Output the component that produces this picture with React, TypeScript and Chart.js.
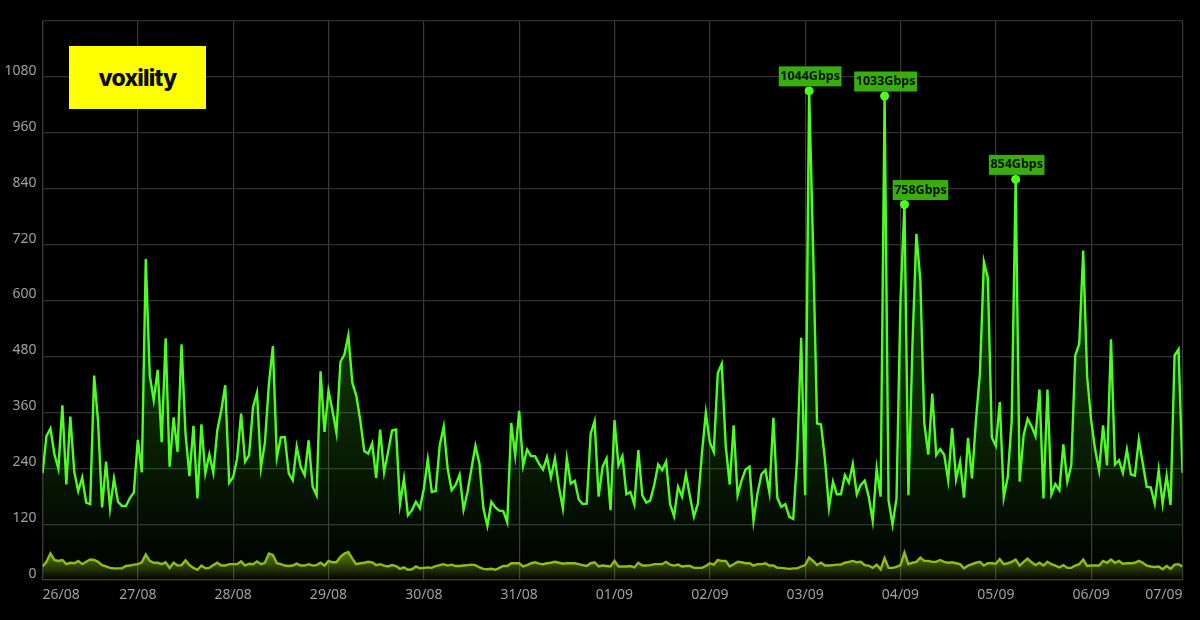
import React, { useEffect, useRef } from 'react';
import Chart from 'chart.js/auto';

const dayLabels = ['26/08', '27/08', '28/08', '29/08', '30/08', '31/08', '01/09', '02/09', '03/09', '04/09', '05/09', '06/09', '07/09'];
const dayTicks = [0, 24, 48, 72, 96, 120, 144, 168, 192, 216, 240, 264, 287];

// hourly traffic, Gbps
const inbound = [
  229, 309, 325, 270, 239, 375, 205, 351, 232, 191, 220, 166, 163, 439, 339, 156, 254, 154, 218, 168, 159, 159, 176, 188,
  301, 231, 689, 439, 386, 451, 296, 519, 243, 349, 275, 506, 314, 223, 331, 175, 334, 229, 270, 230, 321, 364, 418, 209,
  221, 261, 357, 254, 268, 371, 402, 241, 296, 421, 502, 263, 306, 307, 229, 214, 286, 243, 225, 300, 201, 182, 448, 318,
  406, 364, 316, 468, 484, 525, 423, 396, 343, 277, 271, 293, 219, 323, 231, 275, 321, 323, 163, 218, 139, 150, 168, 154,
  196, 259, 189, 191, 289, 329, 239, 193, 204, 226, 151, 189, 240, 288, 250, 154, 116, 168, 156, 149, 148, 124, 337, 268,
  363, 245, 280, 266, 266, 250, 237, 264, 220, 261, 200, 154, 261, 207, 213, 173, 163, 164, 314, 341, 179, 243, 261, 150,
  343, 246, 266, 184, 189, 162, 279, 182, 166, 171, 204, 248, 236, 254, 163, 137, 200, 179, 227, 179, 136, 164, 271, 359,
  296, 275, 444, 464, 289, 205, 332, 182, 214, 237, 243, 127, 186, 227, 236, 188, 348, 176, 157, 163, 136, 131, 264, 520,
  182, 1050, 715, 336, 334, 257, 155, 211, 184, 184, 225, 209, 249, 184, 204, 213, 179, 127, 239, 179, 1039, 171, 119, 175,
  600, 806, 182, 500, 743, 644, 336, 269, 400, 268, 281, 269, 214, 326, 216, 254, 177, 305, 218, 343, 443, 683, 648, 306,
  288, 382, 177, 221, 343, 860, 211, 311, 346, 330, 309, 409, 175, 409, 184, 206, 193, 291, 211, 246, 482, 507, 707, 436,
  343, 280, 235, 332, 246, 517, 248, 257, 230, 280, 227, 224, 301, 250, 200, 199, 164, 236, 164, 224, 161, 482, 495, 230,
];

const outbound = [
  29, 39, 57, 43, 41, 43, 34, 37, 36, 41, 34, 39, 44, 43, 39, 32, 29, 26, 25, 25, 25, 30, 31, 33,
  34, 38, 55, 41, 37, 37, 34, 38, 26, 37, 31, 32, 42, 32, 26, 22, 31, 25, 26, 32, 37, 31, 31, 34,
  34, 34, 40, 31, 35, 34, 40, 34, 37, 57, 54, 36, 34, 31, 30, 31, 35, 31, 31, 34, 31, 32, 37, 31,
  41, 38, 38, 50, 57, 60, 46, 34, 36, 37, 39, 38, 32, 34, 31, 29, 32, 30, 24, 27, 22, 23, 29, 25,
  26, 27, 26, 30, 32, 34, 31, 33, 30, 30, 31, 32, 33, 32, 27, 24, 23, 24, 22, 26, 30, 30, 36, 36,
  36, 29, 32, 36, 38, 35, 34, 36, 37, 39, 37, 35, 36, 36, 36, 34, 32, 30, 36, 38, 29, 31, 30, 29,
  41, 29, 29, 29, 30, 27, 37, 31, 31, 32, 34, 34, 34, 39, 33, 31, 33, 29, 30, 30, 26, 26, 26, 30,
  36, 33, 43, 41, 41, 29, 34, 39, 38, 36, 36, 31, 34, 34, 36, 31, 31, 26, 26, 25, 24, 25, 25, 29,
  32, 48, 41, 32, 37, 31, 31, 32, 33, 33, 37, 39, 41, 38, 39, 32, 31, 26, 33, 23, 47, 26, 26, 28,
  32, 59, 34, 37, 39, 48, 41, 41, 39, 39, 43, 39, 37, 38, 36, 34, 25, 31, 34, 37, 39, 31, 36, 36,
  35, 45, 34, 36, 39, 44, 31, 39, 46, 38, 32, 37, 31, 39, 34, 31, 27, 32, 26, 26, 31, 34, 44, 30,
  31, 31, 31, 41, 37, 44, 37, 41, 35, 36, 36, 37, 41, 37, 31, 29, 28, 29, 23, 30, 24, 33, 34, 29,
];

const peakIndexes = [193, 212, 217, 245];
const peakLabels = ['1044Gbps', '1033Gbps', '758Gbps', '854Gbps'];

const peakLabelPlugin = {
  id: 'peakLabels',
  afterDatasetsDraw(chart: any) {
    const { ctx, scales } = chart;
    ctx.save();
    ctx.font = 'bold 12.5px "Noto Sans"';
    ctx.textAlign = 'center';
    ctx.textBaseline = 'middle';
    peakIndexes.forEach((idx, i) => {
      const text = peakLabels[i];
      const x = scales.x.getPixelForValue(idx);
      const y = scales.y.getPixelForValue(inbound[idx]);
      // the 758 label sits to the right so it clears the 1033 spike
      const cx = text === '758Gbps' ? x + 16 : x + 1;
      const w = ctx.measureText(text).width + 3;
      ctx.fillStyle = '#3aad0e';
      ctx.fillRect(cx - w / 2, y - 24.5, w, 20);
      ctx.fillStyle = '#03100a';
      ctx.fillText(text, cx, y - 14.5);
    });
    ctx.restore();
  },
};

export default function App() {
  const canvasRef = useRef<HTMLCanvasElement>(null);

  useEffect(() => {
    document.body.style.margin = '0';
    document.body.style.background = '#000';
    const canvas = canvasRef.current;
    if (!canvas) return;
    const chart = new Chart(canvas, {
      type: 'line',
      data: {
        datasets: [
          {
            data: inbound.map((y, x) => ({ x, y })),
            borderColor: '#4dff1f',
            borderWidth: 2.4,
            pointRadius: (c: any) => (peakIndexes.includes(c.dataIndex) ? 4.5 : 0),
            pointBackgroundColor: '#4dff1f',
            pointBorderWidth: 0,
            tension: 0,
            fill: 'origin',
            backgroundColor: (c: any) => {
              const area = c.chart.chartArea;
              if (!area) return 'transparent';
              const g = c.chart.ctx.createLinearGradient(0, area.top, 0, area.bottom);
              g.addColorStop(0, 'rgba(70, 255, 30, 0.5)');
              g.addColorStop(1, 'rgba(70, 255, 30, 0)');
              return g;
            },
          },
          {
            data: outbound.map((y, x) => ({ x, y })),
            borderColor: '#8ebc18',
            borderWidth: 2.4,
            pointRadius: 0,
            tension: 0,
            fill: 'origin',
            backgroundColor: (c: any) => {
              const { chartArea: area, scales } = c.chart;
              if (!area) return 'transparent';
              const g = c.chart.ctx.createLinearGradient(0, scales.y.getPixelForValue(60), 0, area.bottom);
              g.addColorStop(0, 'rgba(140, 190, 20, 0.65)');
              g.addColorStop(1, 'rgba(140, 190, 20, 0)');
              return g;
            },
          },
        ],
      },
      options: {
        animation: false,
        responsive: false,
        layout: { padding: { top: 21, right: 17.5, left: 0, bottom: 0 } },
        plugins: { legend: { display: false }, tooltip: { enabled: false } },
        scales: {
          x: {
            type: 'linear',
            min: 0,
            max: 287,
            afterBuildTicks: (scale: any) => {
              scale.ticks = dayTicks.map((value) => ({ value }));
            },
            afterFit: (scale: any) => {
              scale.height = 40;
            },
            grid: { color: '#3a3a3a', lineWidth: 1.2, drawTicks: false },
            border: { color: '#3a3a3a', width: 1.2 },
            ticks: {
              autoSkip: false,
              maxRotation: 0,
              align: 'inner',
              padding: 7,
              color: '#a0a0a0',
              font: { family: '"Noto Sans"', size: 14 },
              callback: (value: any) => dayLabels[dayTicks.indexOf(value)],
            },
          },
          y: {
            min: 0,
            max: 1200,
            afterFit: (scale: any) => {
              scale.width = 42.5;
            },
            grid: { color: '#303030', lineWidth: 1.2, drawTicks: false },
            border: { color: '#3a3a3a', width: 1.2 },
            ticks: {
              stepSize: 120,
              padding: 6,
              labelOffset: -6,
              color: '#a0a0a0',
              font: { family: '"Noto Sans"', size: 14 },
              callback: (value: any) => (value === 1200 ? '' : String(value)),
            },
          },
        },
      },
      plugins: [peakLabelPlugin],
    } as any);
    return () => {
      chart.destroy();
    };
  }, []);

  return (
    <div style={{ position: 'relative', width: 1200, height: 620, background: '#000', overflow: 'hidden' }}>
      <canvas ref={canvasRef} width={1200} height={620} style={{ display: 'block' }} />
      <div
        style={{
          position: 'absolute',
          left: 69,
          top: 46,
          width: 137,
          height: 63,
          background: '#ffff00',
          color: '#0a0a0a',
          display: 'flex',
          alignItems: 'center',
          justifyContent: 'center',
          fontFamily: 'Inter',
          fontWeight: 800,
          fontSize: 23,
          letterSpacing: -0.8,
        }}
      >
        voxility
      </div>
    </div>
  );
}
